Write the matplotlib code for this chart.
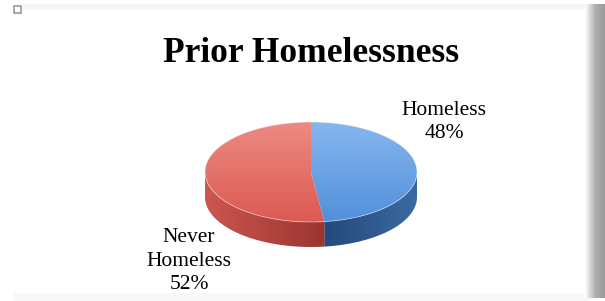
import numpy as np
import matplotlib.pyplot as plt
from matplotlib.patches import Polygon, Rectangle
from matplotlib.colors import LinearSegmentedColormap

# Datos del gráfico
etiquetas = ["Homeless\n48%", "Never\nHomeless\n52%"]
valores = [48, 52]
colores_cara = [("#86b6ee", "#5190da"), ("#ec8a82", "#dc5a52")]
colores_lado = [("#3a6aa3", "#25497a"), ("#cc5650", "#9c3530")]

W, H = 605, 301
fig = plt.figure(figsize=(W / 100, H / 100), dpi=100)
ax = fig.add_axes([0, 0, 1, 1])
ax.set_xlim(0, W)
ax.set_ylim(H, 0)
ax.axis("off")

# marco y sombra
ax.add_patch(Rectangle((22, 4), 570, 6, color="#f6f6f6", lw=0))
ax.add_patch(Rectangle((14, 293), 578, 8, color="#f8f8f8", lw=0))
sombra = np.linspace(0, 1, 40).reshape(1, -1)
cm_sombra = LinearSegmentedColormap.from_list("s", ["#ffffff", "#b0b0b0", "#9a9a9a"])
ax.imshow(sombra, extent=(585, 605, 298, 4), cmap=cm_sombra, aspect="auto", zorder=1)
ax.add_patch(Rectangle((13.5, 5.5), 7, 7, fill=False, ec="#999999", lw=1.2))

# geometría de la torta 3D
cx, cy, a, b, prof = 311, 172, 106, 50, 25


def punto(theta, dy=0):
    t = np.radians(theta)
    return cx + a * np.sin(t), cy - b * np.cos(t) + dy


def relleno(poli, c1, c2, zorder, vertical=True):
    p = Polygon(poli, closed=True, fc="none", ec="none")
    ax.add_patch(p)
    g = np.linspace(0, 1, 100).reshape(-1, 1) if vertical else np.linspace(0, 1, 100).reshape(1, -1)
    cm = LinearSegmentedColormap.from_list("g", [c1, c2])
    xs, ys = poli[:, 0], poli[:, 1]
    im = ax.imshow(g, extent=(xs.min(), xs.max(), ys.max(), ys.min()), cmap=cm,
                   aspect="auto", zorder=zorder, interpolation="bilinear")
    im.set_clip_path(p)


total = sum(valores)
inicio = 0.0
for i, v in enumerate(valores):
    fin = inicio + 360.0 * v / total
    # lado frontal visible (90..270 grados)
    l0, l1 = max(inicio, 90), min(fin, 270)
    if l1 > l0:
        th = np.linspace(l0, l1, 80)
        arriba = np.array([punto(t) for t in th])
        abajo = np.array([punto(t, prof) for t in th[::-1]])
        poli = np.vstack([arriba, abajo])
        c1, c2 = colores_lado[i]
        if i == 0:
            relleno(poli, c2, c1, 2, vertical=False)
        else:
            relleno(poli, c1, c2, 2, vertical=False)
    # cara superior
    th = np.linspace(inicio, fin, 120)
    poli = np.vstack([[cx, cy], np.array([punto(t) for t in th])])
    c1, c2 = colores_cara[i]
    relleno(poli, c1, c2, 3)
    inicio = fin

# borde suave del disco
th = np.linspace(0, 360, 300)
borde = np.array([punto(t) for t in th])
ax.plot(borde[:, 0], borde[:, 1], color="#ffffff", lw=0.6, alpha=0.5, zorder=4)

# textos
ax.text(311, 53, "Prior Homelessness", ha="center", va="center",
        fontsize=25.5, fontweight="bold", family="Liberation Serif", color="black")
ax.text(444, 122, etiquetas[0], ha="center", va="center", fontsize=15.5,
        family="Liberation Serif", linespacing=1.35)
ax.text(189, 261, etiquetas[1], ha="center", va="center", fontsize=15.5,
        family="Liberation Serif", linespacing=1.35)

fig.savefig("out.png", dpi=100)
